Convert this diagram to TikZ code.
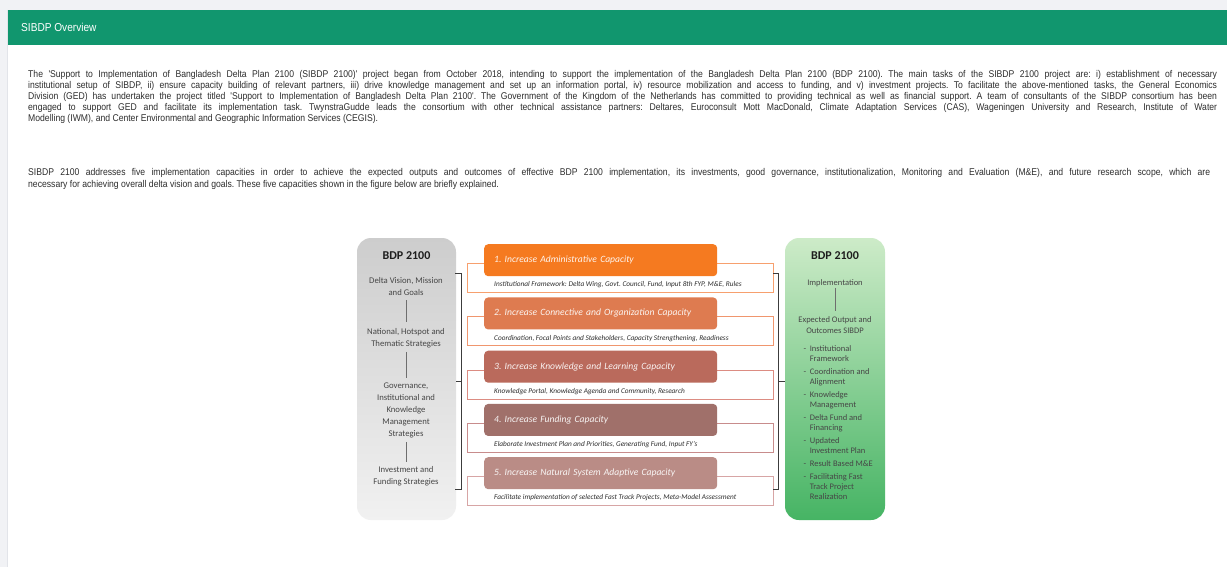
\documentclass[tikz,border=0pt]{standalone}
\usepackage{fontspec}
\setmainfont{Carlito}
\newfontfamily\narrow[FakeStretch=0.88]{Liberation Sans}
\frenchspacing
\definecolor{pagebg}{RGB}{241,242,245}
\definecolor{edgeline}{RGB}{226,228,233}
\definecolor{hdrgreen}{RGB}{17,150,110}
\definecolor{bodytxt}{RGB}{45,45,45}
\definecolor{dtxt}{RGB}{70,70,70}
\definecolor{ttxt}{RGB}{30,30,30}
\definecolor{brkc}{RGB}{60,60,60}
\definecolor{connc}{RGB}{110,110,110}
\definecolor{tA}{RGB}{245,122,32}
\definecolor{tB}{RGB}{222,123,80}
\definecolor{tC}{RGB}{186,106,92}
\definecolor{tD}{RGB}{160,112,106}
\definecolor{tE}{RGB}{186,140,134}
\definecolor{oA}{RGB}{247,160,110}
\definecolor{oB}{RGB}{240,150,110}
\definecolor{oC}{RGB}{220,140,130}
\definecolor{oD}{RGB}{200,140,140}
\definecolor{oE}{RGB}{215,165,165}
\definecolor{grayTop}{RGB}{205,205,205}
\definecolor{grayBot}{RGB}{241,241,241}
\definecolor{greenTop}{RGB}{205,235,200}
\definecolor{greenBot}{RGB}{70,180,100}
\newcommand\jline[2]{\makebox[#1][s]{#2}}
\tikzset{
  para/.style={anchor=base west, inner sep=0pt, text=bodytxt, font=\narrow\fontsize{9.8}{11}\selectfont},
  hdrtext/.style={anchor=west, inner sep=0pt, text=white, font=\narrow\fontsize{11.5}{13}\selectfont},
  sidebox/.style={rounded corners=14pt, minimum width=#1, minimum height=282pt, inner sep=0pt, draw=none},
  sidetitle/.style={inner sep=0pt, text=ttxt, font=\bfseries\fontsize{12}{14}\selectfont},
  ltxt/.style={inner sep=0pt, align=center, text=dtxt, font=\fontsize{8.7}{12}\selectfont},
  rtxt/.style={inner sep=0pt, align=center, text=dtxt, font=\fontsize{8.5}{11}\selectfont},
  rlist/.style={inner sep=0pt, text=dtxt, font=\fontsize{8.5}{10}\selectfont},
  lconn/.style={draw=connc, line width=0.8pt},
  brk/.style={draw=brkc, line width=0.9pt},
  obox/.style={draw, line width=0.9pt, minimum width=306pt, minimum height=29pt, inner sep=0pt},
  tbox/.style={rounded corners=4pt, minimum height=32pt, text width=213pt, inner xsep=10pt, inner ysep=0pt, align=left, font=\itshape\fontsize{9.6}{11}\selectfont},
  subtxt/.style={inner sep=0pt, text=bodytxt, font=\itshape\fontsize{7.3}{8}\selectfont}
}
\begin{document}
\begin{tikzpicture}[x=1pt,y=-1pt]
\useasboundingbox (0,0) rectangle (1227,567);
\fill[pagebg] (0,0) rectangle (1227,567);
\fill[white] (8,10) rectangle (1227,567);
\draw[edgeline, line width=1pt] (7.5,10) -- (7.5,567);
\fill[hdrgreen] (8,10) rectangle (1227,45);
\node[hdrtext] (hdr) at (21,27.5) {SIBDP Overview};

% paragraph 1
\node[para] (p1a) at (28,77.5) {\jline{1189pt}{The 'Support to Implementation of Bangladesh Delta Plan 2100 (SIBDP 2100)' project began from October 2018, intending to support the implementation of the Bangladesh Delta Plan 2100 (BDP 2100). The main tasks of the SIBDP 2100 project are: i) establishment of necessary}};
\node[para] (p1b) at (28,88.4) {\jline{1189pt}{institutional setup of SIBDP, ii) ensure capacity building of relevant partners, iii) drive knowledge management and set up an information portal, iv) resource mobilization and access to funding, and v) investment projects. To facilitate the above-mentioned tasks, the General Economics}};
\node[para] (p1c) at (28,99.3) {\jline{1189pt}{Division (GED) has undertaken the project titled 'Support to Implementation of Bangladesh Delta Plan 2100'. The Government of the Kingdom of the Netherlands has committed to providing technical as well as financial support. A team of consultants of the SIBDP consortium has been}};
\node[para] (p1d) at (28,110.2) {\jline{1189pt}{engaged to support GED and facilitate its implementation task. TwynstraGudde leads the consortium with other technical assistance partners: Deltares, Euroconsult Mott MacDonald, Climate Adaptation Services (CAS), Wageningen University and Research, Institute of Water}};
\node[para] (p1e) at (28,121.1) {Modelling (IWM), and Center Environmental and Geographic Information Services (CEGIS).};

% paragraph 2
\node[para] (p2a) at (28,176) {\jline{1182pt}{SIBDP 2100 addresses five implementation capacities in order to achieve the expected outputs and outcomes of effective BDP 2100 implementation, its investments, good governance, institutionalization, Monitoring and Evaluation (M\&E), and future research scope, which are}};
\node[para] (p2b) at (28,187) {necessary for achieving overall delta vision and goals. These five capacities shown in the figure below are briefly explained.};

% left side box
\node[sidebox=99pt, top color=grayTop, bottom color=grayBot] (L) at (406.5,379) {};
\node[sidetitle] (Lt) at (406.5,256) {BDP 2100};
\node[ltxt] (L1) at (406,287) {Delta Vision, Mission\\and Goals};
\node[ltxt] (L2) at (406,338) {National, Hotspot and\\Thematic Strategies};
\node[ltxt] (L3) at (406,410) {Governance,\\Institutional and\\Knowledge\\Management\\Strategies};
\node[ltxt] (L4) at (406,476) {Investment and\\Funding Strategies};
\draw[lconn, shorten <=4pt, shorten >=6pt] (L1) -- (L2);
\draw[lconn, shorten <=4pt, shorten >=4pt] (L2) -- (L3);
\draw[lconn, shorten <=4pt, shorten >=4pt] (L3) -- (L4);

% right side box
\node[sidebox=100pt, top color=greenTop, bottom color=greenBot] (R) at (835,379) {};
\node[sidetitle] (Rt) at (835,256) {BDP 2100};
\node[rtxt] (R1) at (835,283) {Implementation};
\node[rtxt] (R2) at (835,325) {Expected Output and\\Outcomes SIBDP};
\draw[lconn, shorten <=1pt, shorten >=5pt] (R1) -- (R2);
\node[rlist, anchor=north west] (Rl) at (803.5,344) {%
\begin{tabular}{@{}l@{\hspace{3.5pt}}l@{}}
- & Institutional\\
  & Framework\\[3pt]
- & Coordination and\\
  & Alignment\\[3pt]
- & Knowledge\\
  & Management\\[3pt]
- & Delta Fund and\\
  & Financing\\[3pt]
- & Updated\\
  & Investment Plan\\[3pt]
- & Result Based M\&E\\[3pt]
- & Facilitating Fast\\
  & Track Project\\
  & Realization
\end{tabular}};

% middle capacity rows
\foreach \ri/\tcol/\ocol/\ttx/\stx in {
  0/tA/oA/{1. Increase Administrative Capacity}/{Institutional Framework: Delta Wing, Govt. Council, Fund, Input 8th FYP, M\&E, Rules},
  1/tB/oB/{2. Increase Connective and Organization Capacity}/{Coordination, Focal Points and Stakeholders, Capacity Strengthening, Readiness},
  2/tC/oC/{3. Increase Knowledge and Learning Capacity}/{Knowledge Portal, Knowledge Agenda and Community, Research},
  3/tD/oD/{4. Increase Funding Capacity}/{Elaborate Investment Plan and Priorities, Generating Fund, Input FY's},
  4/tE/oE/{5. Increase Natural System Adaptive Capacity}/{Facilitate implementation of selected Fast Track Projects, Meta-Model Assessment}}
{
  \pgfmathsetmacro\rowT{244+53.25*\ri}
  \node[obox, draw=\ocol, anchor=north west] (O\ri) at (467,\rowT+19) {};
  \node[tbox, fill=\tcol, text=white!92!\tcol, anchor=north west] (T\ri) at (484,\rowT) {\ttx};
  \node[subtxt, anchor=west] (S\ri) at (494,\rowT+41) {\stx};
}

% brackets
\coordinate (LBtop) at (461,273);
\coordinate (LBbot) at (461,489);
\coordinate (LBmid) at (461,381);
\draw[brk] ([xshift=-6pt]LBtop) -- (LBtop) -- (LBbot) -- ([xshift=-6pt]LBbot);
\draw[brk] (L.east |- LBmid) -- (LBmid);
\coordinate (RBtop) at (778,273);
\coordinate (RBbot) at (778,489);
\coordinate (RBmid) at (778,381);
\draw[brk] ([xshift=-5pt]RBtop) -- (RBtop) -- (RBbot) -- ([xshift=-5pt]RBbot);
\draw[brk] (RBmid) -- (R.west |- RBmid);
\end{tikzpicture}
\end{document}
